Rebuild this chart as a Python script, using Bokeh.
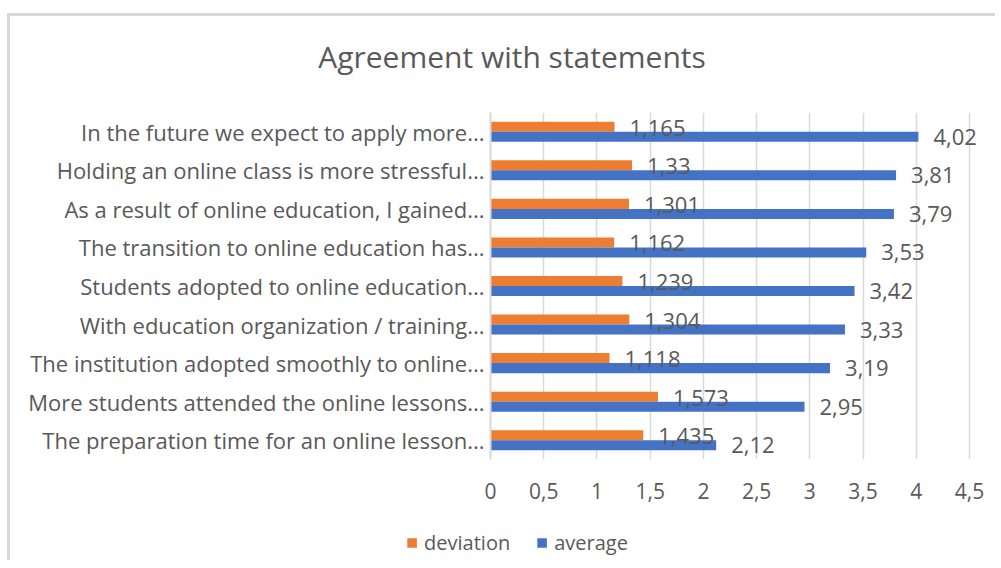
from bokeh.plotting import figure
from bokeh.models import ColumnDataSource, FactorRange, Range1d, LabelSet, Legend, LegendItem, FixedTicker, Div
from bokeh.layouts import column
from bokeh.transform import dodge
from bokeh.embed import file_html
from bokeh.resources import INLINE
from bokeh.core.properties import value

# ---- data (top to bottom as in the reference) ----
categories = [
    "In the future we expect to apply more...",
    "Holding an online class is more stressful...",
    "As a result of online education, I gained...",
    "The transition to online education has...",
    "Students adopted to online education...",
    "With education organization / training...",
    "The institution adopted smoothly to online...",
    "More students attended the online lessons...",
    "The preparation time for an online lesson...",
]
deviation = [1.165, 1.33, 1.301, 1.162, 1.239, 1.304, 1.118, 1.573, 1.435]
average = [4.02, 3.81, 3.79, 3.53, 3.42, 3.33, 3.19, 2.95, 2.12]
x_ticks = [0, 0.5, 1, 1.5, 2, 2.5, 3, 3.5, 4, 4.5]
x_tick_labels = ["0", "0,5", "1", "1,5", "2", "2,5", "3", "3,5", "4", "4,5"]
series_names = ["deviation", "average"]
title_text = "Agreement with statements"

ORANGE = "#ED7D31"
BLUE = "#4472C4"
GREY_TEXT = "#595959"
GRID = "#D9D9D9"
FONT = "Open Sans"

W = 985          # inner width of the chart box
FRAME_LEFT = 480  # in figure coordinates
FRAME_RIGHT = 980


def fmt(v):
    return ("%g" % v).replace(".", ",")


source = ColumnDataSource(dict(
    cat=categories,
    deviation=deviation,
    average=average,
    dev_lbl=[fmt(v) for v in deviation],
    avg_lbl=[fmt(v) for v in average],
))

# 0..4.5 spans 479 px; range extended a little so the value labels are not clipped
x_end = 4.5 * (FRAME_RIGHT - FRAME_LEFT) / 479.0

p = figure(
    width=W, height=409,
    y_range=FactorRange(factors=list(reversed(categories))),
    x_range=Range1d(0, x_end),
    output_backend="svg", toolbar_location=None,
    min_border_left=FRAME_LEFT, min_border_right=W - FRAME_RIGHT,
    min_border_top=12, min_border_bottom=50,
    margin=(0, 0, 0, 0),
)
p.outline_line_color = None
p.background_fill_color = "white"
p.border_fill_color = "white"

r_dev = p.hbar(y=dodge("cat", 0.13, range=p.y_range), right="deviation", left=0, height=0.26,
               source=source, fill_color=ORANGE, line_color=None)
r_avg = p.hbar(y=dodge("cat", -0.13, range=p.y_range), right="average", left=0, height=0.26,
               source=source, fill_color=BLUE, line_color=None)

lab_dev = LabelSet(x="deviation", y=dodge("cat", 0.13, range=p.y_range), text="dev_lbl", source=source,
                   x_offset=15, y_offset=-1, text_baseline="middle", text_align="left",
                   text_font=value(FONT), text_font_size="22px", text_color=GREY_TEXT)
lab_avg = LabelSet(x="average", y=dodge("cat", -0.13, range=p.y_range), text="avg_lbl", source=source,
                   x_offset=15, y_offset=0, text_baseline="middle", text_align="left",
                   text_font=value(FONT), text_font_size="22px", text_color=GREY_TEXT)
p.add_layout(lab_dev)
p.add_layout(lab_avg)

# axes
p.xaxis.ticker = FixedTicker(ticks=x_ticks)
p.xaxis.major_label_overrides = {t: l for t, l in zip(x_ticks, x_tick_labels)}
p.xaxis.axis_line_color = None
p.xaxis.major_tick_line_color = None
p.xaxis.minor_tick_line_color = None
p.xaxis.major_label_standoff = 17
p.xaxis.major_label_text_font = FONT
p.xaxis.major_label_text_font_size = "21px"
p.xaxis.major_label_text_color = GREY_TEXT

p.yaxis.axis_line_color = GRID
p.yaxis.axis_line_width = 2
p.yaxis.major_tick_line_color = None
p.yaxis.minor_tick_line_color = None
p.yaxis.major_label_standoff = 0
p.yaxis.major_label_text_font = FONT
p.yaxis.major_label_text_font_size = "22px"
p.yaxis.major_label_text_color = GREY_TEXT

p.xgrid.grid_line_color = GRID
p.xgrid.grid_line_width = 1.5
p.ygrid.grid_line_color = None

# legend strip below the chart; its key renderers are zero-height so only the legend keys show
lg = figure(width=W, height=51, x_range=Range1d(0, 1), y_range=Range1d(0, 1),
            output_backend="svg", toolbar_location=None,
            min_border_left=28, min_border_right=0, min_border_top=15, min_border_bottom=0,
            margin=(0, 0, 0, 0))
lg.frame_align = False
lg.axis.visible = False
lg.grid.visible = False
lg.outline_line_color = None
lg.border_fill_color = "white"
lg.background_fill_color = "white"
k_dev = lg.hbar(y=0.5, right="deviation", left=0, height=0, source=source,
                fill_color=ORANGE, line_color=None)
k_avg = lg.hbar(y=0.5, right="average", left=0, height=0, source=source,
                fill_color=BLUE, line_color=None)
legend = Legend(items=[LegendItem(label=series_names[0], renderers=[k_dev], index=0),
                       LegendItem(label=series_names[1], renderers=[k_avg], index=0)],
                orientation="horizontal", location="center",
                background_fill_alpha=0, border_line_color=None,
                label_text_font=FONT, label_text_font_size="20px", label_text_color=GREY_TEXT,
                glyph_width=12, glyph_height=12, spacing=25, padding=2, margin=0,
                label_standoff=7)
lg.add_layout(legend)

title = Div(
    text='<div style="margin-top:20px;padding-left:19px;text-align:center;">%s</div>' % title_text,
    width=W, height=84, margin=(0, 0, 0, 0),
    styles={"font-family": FONT, "font-size": "30px", "color": GREY_TEXT, "text-align": "center"},
)

layout = column(title, p, lg, spacing=0, margin=(13, 0, 0, 7),
                styles={"border-top": "3px solid #D9D9D9", "border-left": "3px solid #D9D9D9"})
open("out.html", "w").write(file_html(layout, INLINE))
